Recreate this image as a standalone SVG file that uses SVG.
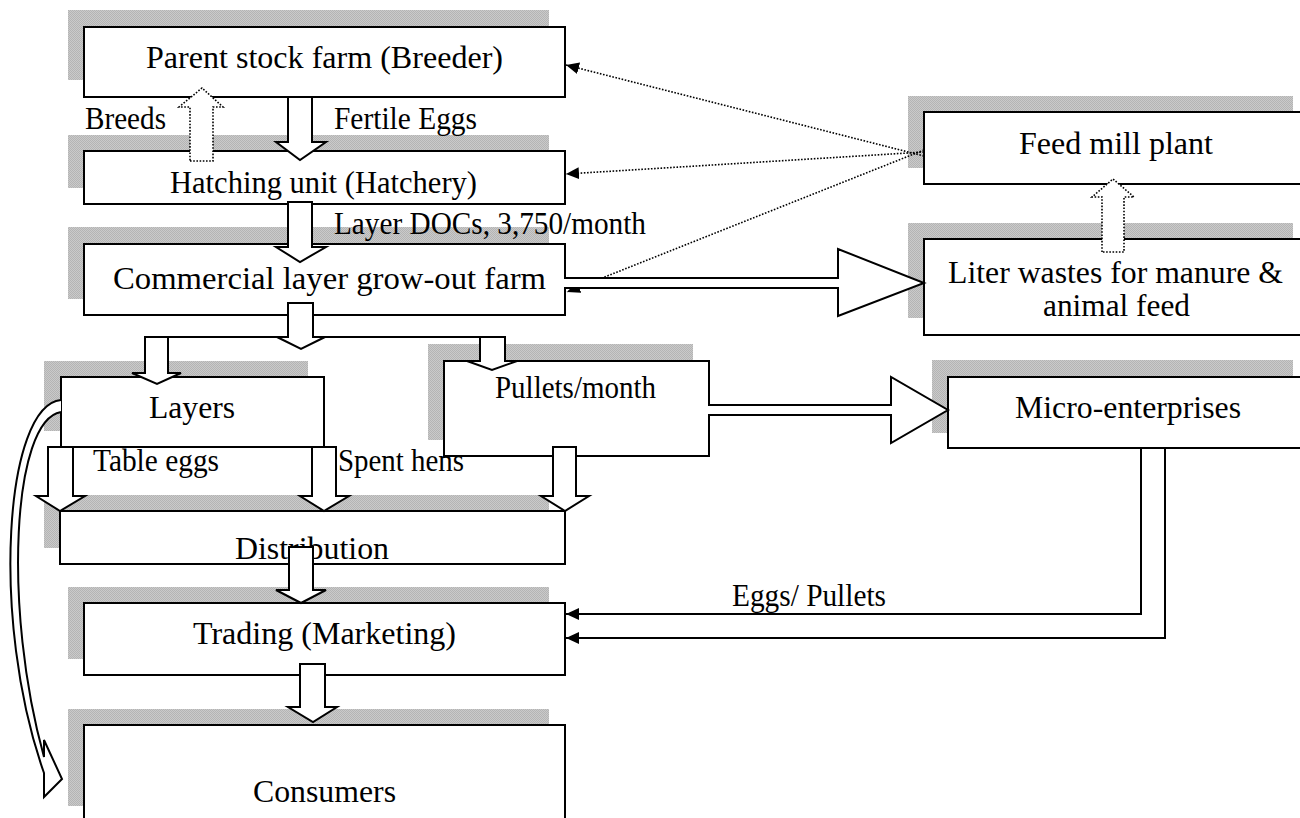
<svg xmlns="http://www.w3.org/2000/svg" width="1300" height="818" viewBox="0 0 1300 818">
<defs>
<pattern id="dot" width="2" height="2" patternUnits="userSpaceOnUse"><rect width="2" height="2" fill="#cacaca"/><rect width="1" height="1" fill="#b4b4b4"/><rect x="1" y="1" width="1" height="1" fill="#b4b4b4"/></pattern>
<marker id="ah" markerUnits="userSpaceOnUse" markerWidth="14" markerHeight="12" refX="13" refY="6" orient="auto"><path d="M0,0 L13,6 L0,12 Z" fill="#000"/></marker>
<style>
.sh{fill:url(#dot);stroke:none}
.bx{fill:#fff;stroke:#000;stroke-width:2}
.t{font-family:"Liberation Serif","Times New Roman",serif;font-size:32px;fill:#000}
.ba{fill:#fff;stroke:#000;stroke-width:2;stroke-linejoin:miter}
.bd{fill:#fff;stroke:#000;stroke-width:1.6;stroke-dasharray:1.6 1.6}
.dl{fill:none;stroke:#000;stroke-width:1.6;stroke-dasharray:1.6 1.6}
.ln{fill:none;stroke:#000;stroke-width:2}
</style>
</defs>
<rect width="1300" height="818" fill="#fff"/>

<g id="parent"><rect class="sh" x="68" y="10" width="481" height="70"/><rect class="bx" x="84" y="27" width="481" height="70"/><text class="t" x="146" y="68" textLength="357" lengthAdjust="spacingAndGlyphs">Parent stock farm (Breeder)</text></g>
<g id="hatchery"><rect class="sh" x="68" y="135" width="481" height="53"/><rect class="bx" x="84" y="151" width="481" height="53"/><text class="t" x="170" y="193" textLength="307" lengthAdjust="spacingAndGlyphs">Hatching unit (Hatchery)</text></g>
<g id="commercial"><rect class="sh" x="68" y="227" width="481" height="72"/><rect class="bx" x="84" y="244" width="481" height="71"/><text class="t" x="113" y="289" textLength="433" lengthAdjust="spacingAndGlyphs">Commercial layer grow-out farm</text></g>
<g id="layers"><rect class="sh" x="44" y="361" width="264" height="70"/><rect class="bx" x="61" y="377" width="263" height="70"/><text class="t" x="149" y="418" textLength="86" lengthAdjust="spacingAndGlyphs">Layers</text></g>
<g id="pullets"><rect class="sh" x="428" y="344" width="265" height="96"/><rect class="bx" x="444" y="361" width="265" height="95"/><text class="t" x="495" y="398" textLength="161" lengthAdjust="spacingAndGlyphs">Pullets/month</text></g>
<g id="distribution"><rect class="sh" x="44" y="495" width="505" height="53"/><rect class="bx" x="60" y="511" width="505" height="53"/><text class="t" x="235" y="559" textLength="154" lengthAdjust="spacingAndGlyphs">Distribution</text></g>
<g id="trading"><rect class="sh" x="68" y="587" width="481" height="72"/><rect class="bx" x="84" y="603" width="481" height="72"/><text class="t" x="193" y="644" textLength="263" lengthAdjust="spacingAndGlyphs">Trading (Marketing)</text></g>
<g id="consumers"><rect class="sh" x="68" y="709" width="481" height="97"/><rect class="bx" x="84" y="725" width="481" height="110"/><text class="t" x="253" y="802" textLength="143" lengthAdjust="spacingAndGlyphs">Consumers</text></g>
<g id="feedmill"><rect class="sh" x="908" y="96" width="385" height="72"/><rect class="bx" x="924" y="112" width="385" height="72"/><text class="t" x="1019" y="154" textLength="194" lengthAdjust="spacingAndGlyphs">Feed mill plant</text></g>
<g id="liter"><rect class="sh" x="908" y="223" width="385" height="95"/><rect class="bx" x="924" y="239" width="385" height="96"/><text class="t" x="948" y="283" textLength="335" lengthAdjust="spacingAndGlyphs">Liter wastes for manure &amp;</text><text class="t" x="1043" y="316" textLength="147" lengthAdjust="spacingAndGlyphs">animal feed</text></g>
<g id="micro"><rect class="sh" x="932" y="360" width="361" height="73"/><rect class="bx" x="948" y="377" width="361" height="71"/><text class="t" x="1015" y="418" textLength="226" lengthAdjust="spacingAndGlyphs">Micro-enterprises</text></g>

<g id="labels">
<text class="t" x="85" y="129" textLength="81" lengthAdjust="spacingAndGlyphs">Breeds</text>
<text class="t" x="334" y="129" textLength="143" lengthAdjust="spacingAndGlyphs">Fertile Eggs</text>
<text class="t" x="334" y="234" textLength="312" lengthAdjust="spacingAndGlyphs">Layer DOCs, 3,750/month</text>
<text class="t" x="93" y="471" textLength="126" lengthAdjust="spacingAndGlyphs">Table eggs</text>
<text class="t" x="338" y="471" textLength="126" lengthAdjust="spacingAndGlyphs">Spent hens</text>
<text class="t" x="732" y="606" textLength="154" lengthAdjust="spacingAndGlyphs">Eggs/ Pullets</text>
</g>

<g id="connectors">
<path class="dl" d="M924,156 L566,65" marker-end="url(#ah)"/>
<path class="dl" d="M924,152 L566,174" marker-end="url(#ah)"/>
<path class="dl" d="M924,150 L567,292" marker-end="url(#ah)"/>
<path class="ba" d="M288,97 H312 V142 H326 L300,160 L276,142 H288 Z"/>
<path class="bd" d="M190,161 H213 V107 H223 L202,88 L179,107 H190 Z"/>
<path class="ba" d="M288,202 H312 V247 H326 L300,262 L276,247 H288 Z"/>
<path class="ba" d="M145,337 V373 H132 L157,384 L181,373 H168 V337"/>
<path class="ba" d="M480,337 V361 H467 L492,370 L517,361 H505 V337"/>
<path class="ln" d="M144,337 H506"/>
<path class="ba" d="M288,303 H313 V337 H325 L301,349 L277,337 H288 Z"/>
<path class="ba" d="M564,278 H838 V249 L924,283 L838,316 V288 H564"/>
<path class="ba" d="M708,405 H891 V377 L948,410 L891,443 V415 H708"/>
<path class="bd" d="M1102,252 V197 H1092 L1113,179 L1134,197 H1124 V252 Z"/>
<path class="ba" d="M48,447 V496 H36 L60,511 L85,496 H73 V447"/>
<path class="ba" d="M312,447 V496 H300 L324,511 L349,496 H336 V447"/>
<path class="ln" d="M47,447 H337"/>
<path class="ba" d="M553,447 H576 V496 H589 L565,511 L541,496 H553 Z"/>
<path class="ba" d="M289,547 H313 V590 H326 L301,603 L276,590 H289 Z"/>
<path class="ba" d="M300,664 H325 V707 H337 L313,722 L288,707 H300 Z"/>
<path class="ln" d="M1141,448 V614 H566" marker-end="url(#ah)"/>
<path class="ln" d="M1165,448 V638 H566" marker-end="url(#ah)"/>
<path class="ba" d="M61,400 C5,405 -10,620 44,773 L44,797 L62,779 L44,740 L44,757 C3,610 12,420 61,412"/>
</g>
</svg>
